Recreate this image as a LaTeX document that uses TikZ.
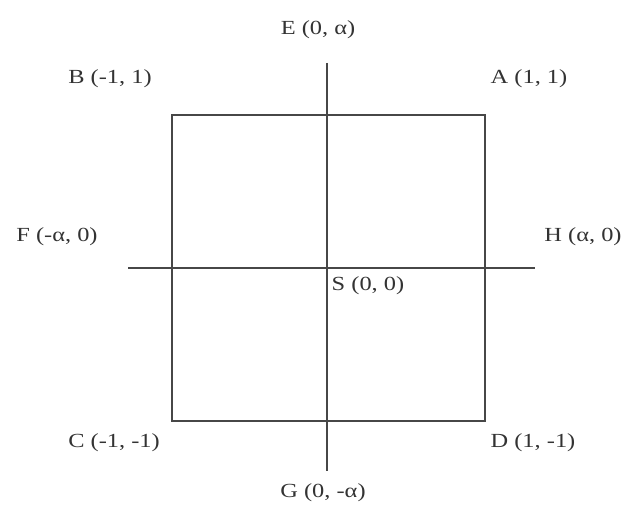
\documentclass[tikz,border=0pt]{standalone}
\usepackage{fontspec}
\usepackage{graphicx}
\setmainfont{Liberation Serif}
\newcommand{\widelbl}[1]{\scalebox{1.22}[1]{#1}}
\begin{document}
\begin{tikzpicture}[x=1pt,y=1pt,
  lbl/.style={inner sep=0pt, text=black!80, font=\fontsize{20}{24}\selectfont},
  ln/.style={line width=1.6pt, draw=black!72}]
\useasboundingbox (0,0) rectangle (627,506);
% named points
\coordinate (sqA) at (485,391);
\coordinate (sqB) at (172,391);
\coordinate (sqC) at (172,85);
\coordinate (sqD) at (485,85);
\coordinate (vtop) at (327,443);
\coordinate (vbot) at (327,35);
\coordinate (hl) at (128,238);
\coordinate (hr) at (535,238);
% lines
\draw[ln] (sqA) -- (sqB) -- (sqC) -- (sqD) -- cycle;
\draw[ln] (vtop) -- (vbot);
\draw[ln] (hl) -- (hr);
% labels
\node[lbl] (E) at (318,476) {\widelbl{E (0, α)}};
\node[lbl] (B) at (110,427) {\widelbl{B (-1, 1)}};
\node[lbl] (A) at (529,427) {\widelbl{A (1, 1)}};
\node[lbl] (F) at (57,269) {\widelbl{F (-α, 0)}};
\node[lbl] (H) at (583,269) {\widelbl{H (α, 0)}};
\node[lbl] (S) at (368,220) {\widelbl{S (0, 0)}};
\node[lbl] (C) at (114,63) {\widelbl{C (-1, -1)}};
\node[lbl] (D) at (533,63) {\widelbl{D (1, -1)}};
\node[lbl] (G) at (323,13) {\widelbl{G (0, -α)}};
\end{tikzpicture}
\end{document}
